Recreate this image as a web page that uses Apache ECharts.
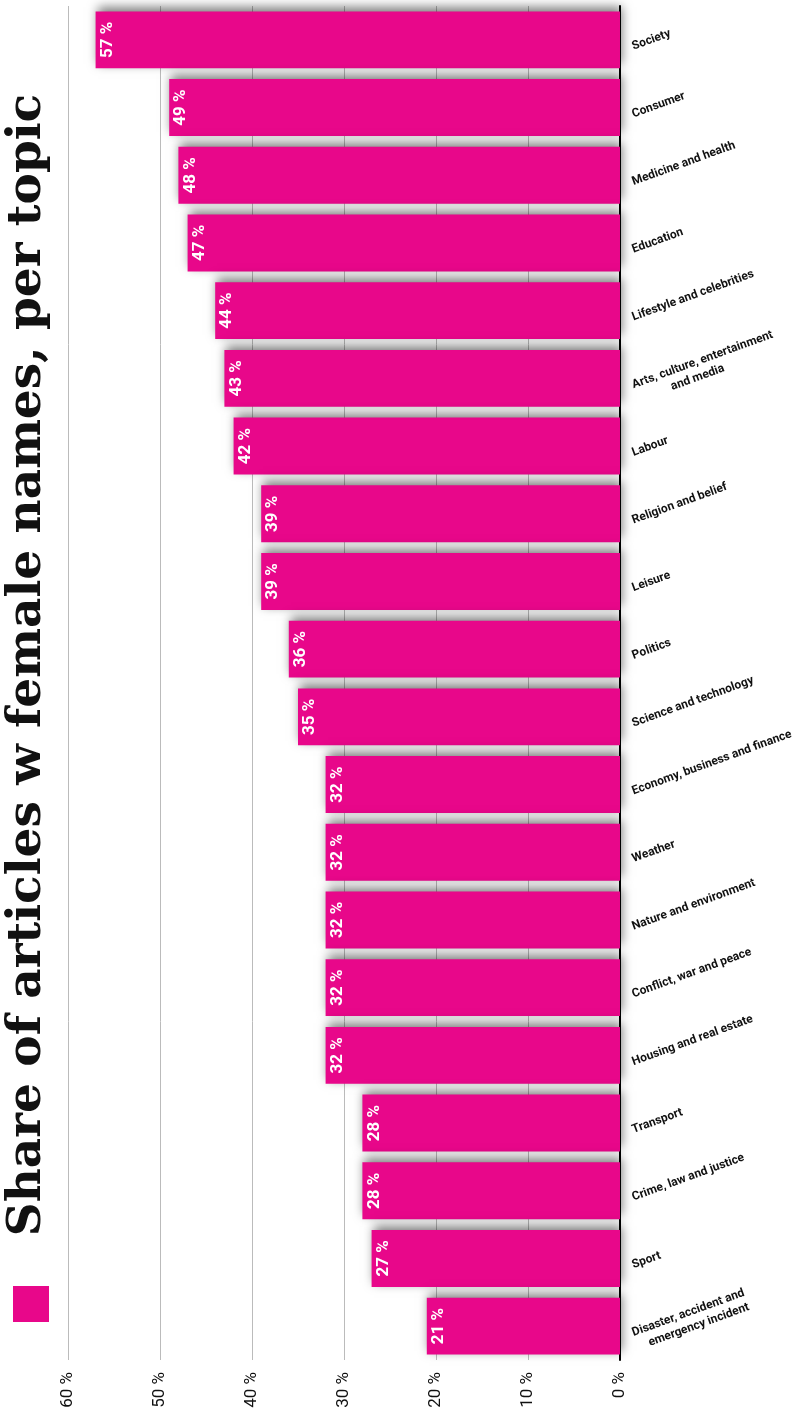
<!DOCTYPE html>
<html>
<head>
<meta charset="utf-8">
<script src="https://cdn.jsdelivr.net/npm/echarts@6/dist/echarts.min.js"></script>
<style>
html,body{margin:0;padding:0;background:#fff;}
#chart{width:794px;height:1417px;}
</style>
</head>
<body>
<div id="chart"></div>
<script>
const categories = [
  'Society', 'Consumer', 'Medicine and health', 'Education', 'Lifestyle and celebrities',
  'Arts, culture, entertainment\n            and media', 'Labour', 'Religion and belief', 'Leisure', 'Politics',
  'Science and technology', 'Economy, business and finance', 'Weather', 'Nature and environment',
  'Conflict, war and peace', 'Housing and real estate', 'Transport', 'Crime, law and justice',
  'Sport', 'Disaster, accident and\n    emergency incident'
];
const shareValues = [57, 49, 48, 47, 44, 43, 42, 39, 39, 36, 35, 32, 32, 32, 32, 32, 28, 28, 27, 21];
const titleText = 'Share of articles w female names, per topic';
const seriesName = 'Share';

const condensed = "Roboto, sans-serif";
const pink = '#e8078a';

const chart = echarts.init(document.getElementById('chart'));
chart.setOption({
  animation: false,
  backgroundColor: '#fff',
  grid: { left: 68, right: 174, top: 6, bottom: 57, containLabel: false, outerBoundsMode: 'none' },
  legend: {
    data: [seriesName],
    left: 8, top: 1281,
    icon: 'rect', itemWidth: 36, itemHeight: 36,
    formatter: () => '',
    selectedMode: false
  },
  graphic: [{
    type: 'text',
    x: 28, y: 665,
    rotation: Math.PI / 2,
    style: {
      text: titleText,
      font: "bold 47px 'DejaVu Serif', serif",
      fill: '#111',
      align: 'center',
      verticalAlign: 'middle'
    }
  }],
  xAxis: {
    type: 'value',
    inverse: true,
    min: 0, max: 60, interval: 10,
    axisLine: { show: false },
    axisTick: { show: false },
    splitLine: { show: true, lineStyle: { color: '#bbbbbb', width: 1 } },
    axisLabel: {
      formatter: '{value} %',
      rotate: 90,
      margin: 12,
      fontFamily: condensed,
      fontSize: 17,
      color: '#111'
    }
  },
  yAxis: {
    type: 'category',
    data: categories,
    inverse: true,
    position: 'right',
    axisLine: { show: true, lineStyle: { color: '#000', width: 2 } },
    axisTick: { show: false },
    axisLabel: {
      rotate: 20,
      margin: 10,
      verticalAlign: 'top',
      fontFamily: condensed,
      fontWeight: 'bold',
      fontSize: 12,
      color: '#111',
      lineHeight: 15
    }
  },
  series: [{
    name: seriesName,
    type: 'bar',
    data: shareValues,
    barCategoryGap: '16%',
    itemStyle: {
      color: pink,
      shadowColor: 'rgba(0,0,0,0.5)',
      shadowBlur: 10,
      shadowOffsetX: 2,
      shadowOffsetY: -4
    },
    label: {
      show: true,
      position: 'insideLeft',
      distance: 12,
      rotate: 90,
      align: 'center',
      verticalAlign: 'middle',
      formatter: '{c} %',
      color: '#fff',
      fontFamily: condensed,
      fontWeight: 'bold',
      fontSize: 17
    }
  }]
});
</script>
</body>
</html>
